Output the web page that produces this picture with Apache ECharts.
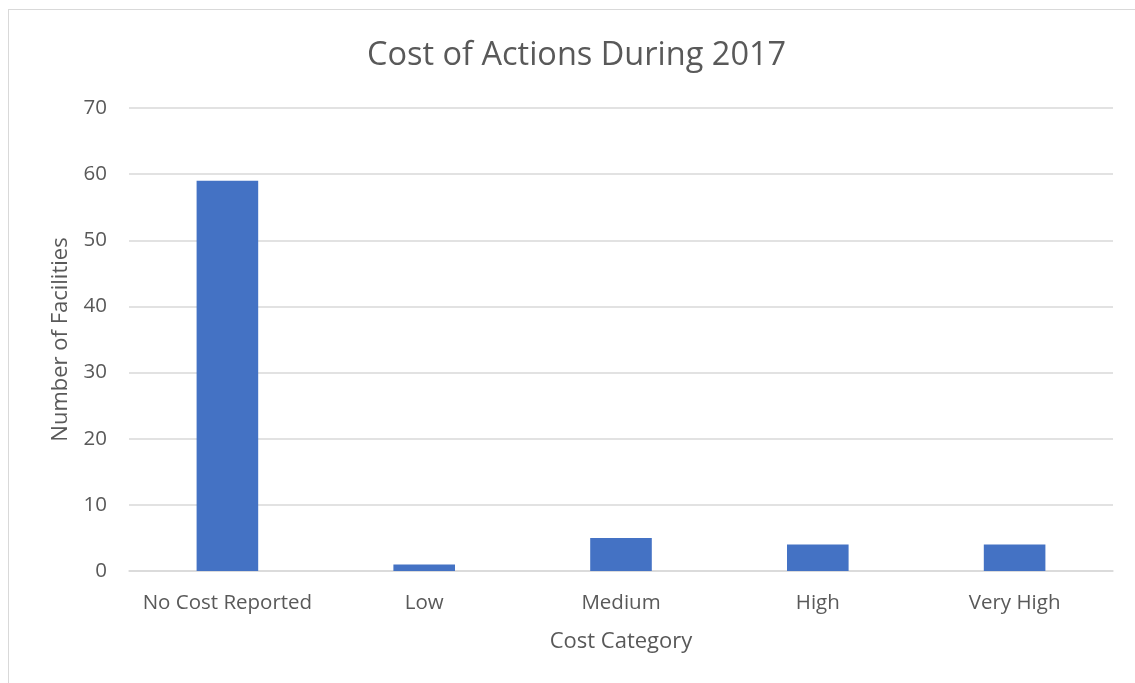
<!DOCTYPE html>
<html>
<head>
<meta charset="utf-8">
<script src="https://cdn.jsdelivr.net/npm/echarts@6/dist/echarts.min.js"></script>
<style>
  html, body { margin: 0; padding: 0; background: #fff; overflow: hidden; }
  #frame { position: absolute; left: 8px; top: 9px; width: 1140px; height: 690px;
           border-left: 1px solid #d9d9d9; border-top: 1px solid #d9d9d9; }
  #chart { position: absolute; left: 0; top: 0; width: 1135px; height: 683px; }
</style>
</head>
<body>
<div id="frame"></div>
<div id="chart"></div>
<script>
const categories = ['No Cost Reported', 'Low', 'Medium', 'High', 'Very High']
const facilities = [59, 1, 5, 4, 4]
const yTicks = { min: 0, max: 70, interval: 10 }

const textColor = '#595959'
const font = '"Open Sans", "Noto Sans", sans-serif'

const chart = echarts.init(document.getElementById('chart'))

chart.setOption({
  animation: false,
  title: {
    text: 'Cost of Actions During 2017',
    left: 362,
    top: 34,
    textStyle: { color: textColor, fontFamily: font, fontSize: 32.5, fontWeight: 'normal' }
  },
  grid: { left: 129, right: 22, top: 108, bottom: 112, containLabel: false },
  xAxis: {
    type: 'category',
    data: categories,
    name: 'Cost Category',
    nameLocation: 'middle',
    nameGap: 60,
    nameTextStyle: { color: textColor, fontFamily: font, fontSize: 22 },
    axisLine: { lineStyle: { color: '#d9d9d9', width: 1.5 } },
    axisTick: { show: false },
    axisLabel: { color: textColor, fontFamily: font, fontSize: 20.5, margin: 22, interval: 0 }
  },
  yAxis: {
    type: 'value',
    min: yTicks.min,
    max: yTicks.max,
    interval: yTicks.interval,
    name: 'Number of Facilities',
    nameLocation: 'middle',
    nameGap: 57,
    nameTextStyle: { color: textColor, fontFamily: font, fontSize: 22 },
    axisLine: { show: false },
    axisTick: { show: false },
    axisLabel: { color: textColor, fontFamily: font, fontSize: 20.5, margin: 22 },
    splitLine: { lineStyle: { color: '#d9d9d9', width: 1.5 } }
  },
  series: [{
    type: 'bar',
    data: facilities,
    barWidth: '31.3%',
    itemStyle: { color: '#4472C4' }
  }]
})
</script>
</body>
</html>
